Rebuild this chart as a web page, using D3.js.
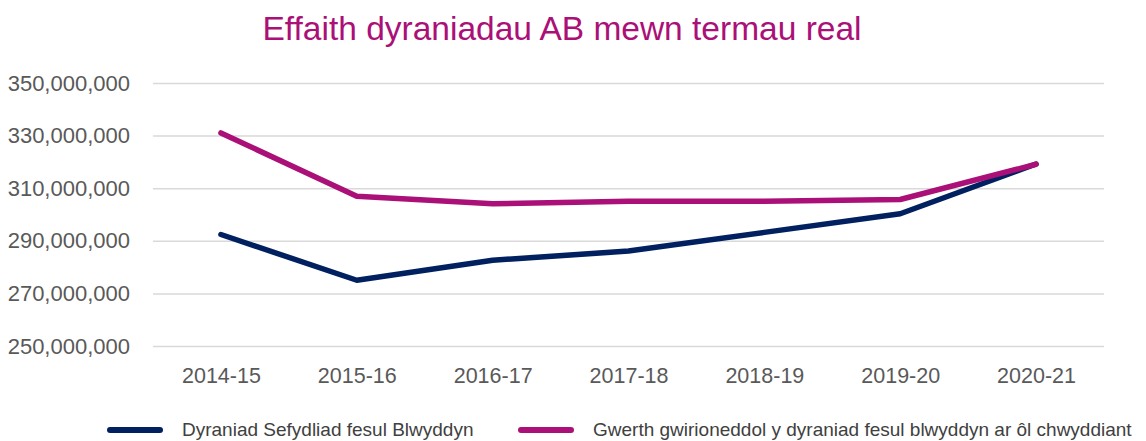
<!DOCTYPE html>
<html>
<head>
<meta charset="utf-8">
<script src="https://cdn.jsdelivr.net/npm/d3@7"></script>
<style>
  body { margin: 0; background: #fff; }
  svg { display: block; font-family: "Liberation Sans", Arial, sans-serif; }
</style>
</head>
<body>
<svg width="1146" height="441"></svg>
<script>
var years = ["2014-15", "2015-16", "2016-17", "2017-18", "2018-19", "2019-20", "2020-21"];
var allocation = [292400000, 275000000, 282600000, 286100000, 293200000, 300300000, 319200000];
var realValue = [331000000, 306900000, 304100000, 305000000, 305000000, 305700000, 319100000];
var yTicks = [250000000, 270000000, 290000000, 310000000, 330000000, 350000000];
var seriesNames = ["Dyraniad Sefydliad fesul Blwyddyn", "Gwerth gwirioneddol y dyraniad fesul blwyddyn ar ôl chwyddiant"];

function main() {
  var svg = d3.select("svg"),
      margin = {top: 83, left: 153, right: 42, bottom: 95},
      width = 1146 - margin.left - margin.right,
      height = 441 - margin.top - margin.bottom,
      g = svg.append("g").attr("transform", "translate(" + margin.left + "," + margin.top + ")");

  var navy = "#002060", magenta = "#AA1077";

  var x = d3.scalePoint().domain(years).range([0, width]).padding(0.5);
  var y = d3.scaleLinear().domain([250000000, 350000000]).range([height, 0]);

  // title
  svg.append("text")
    .attr("x", 562)
    .attr("y", 40)
    .attr("text-anchor", "middle")
    .attr("fill", magenta)
    .attr("font-size", "33.5px")
    .text("Effaith dyraniadau AB mewn termau real");

  // gridlines + y labels
  var yAxis = g.append("g")
    .call(d3.axisLeft(y).tickValues(yTicks).tickSize(-width).tickPadding(23).tickFormat(d3.format(",")));
  yAxis.select(".domain").remove();
  yAxis.selectAll(".tick line").attr("stroke", "#d9d9d9").attr("stroke-width", 1.5);
  yAxis.selectAll(".tick text")
    .attr("fill", "#595959")
    .attr("font-size", "22px")
    .attr("font-family", "Liberation Sans, Arial, sans-serif");

  // x labels
  var xAxis = g.append("g")
    .attr("transform", "translate(0," + height + ")")
    .call(d3.axisBottom(x).tickSize(0).tickPadding(22));
  xAxis.select(".domain").remove();
  xAxis.selectAll(".tick text")
    .attr("fill", "#595959")
    .attr("font-size", "21.5px")
    .attr("font-family", "Liberation Sans, Arial, sans-serif");

  var line = d3.line()
    .x(function(d, i) { return x(years[i]); })
    .y(function(d) { return y(d); });

  g.append("path")
    .datum(allocation)
    .attr("fill", "none")
    .attr("stroke", navy)
    .attr("stroke-width", 5.5)
    .attr("stroke-linecap", "round")
    .attr("stroke-linejoin", "round")
    .attr("d", line);

  g.append("path")
    .datum(realValue)
    .attr("fill", "none")
    .attr("stroke", magenta)
    .attr("stroke-width", 5.5)
    .attr("stroke-linecap", "round")
    .attr("stroke-linejoin", "round")
    .attr("d", line);

  // legend
  var legendX = [110, 521];
  var colors = [navy, magenta];
  var legend = svg.append("g")
    .selectAll("g")
    .data(seriesNames)
    .enter().append("g")
      .attr("transform", function(d, i) { return "translate(" + legendX[i] + ",430)"; });

  legend.append("line")
    .attr("x1", 0).attr("x2", 50)
    .attr("stroke", function(d, i) { return colors[i]; })
    .attr("stroke-width", 6)
    .attr("stroke-linecap", "round");

  legend.append("text")
    .attr("x", 72)
    .attr("dy", "0.3em")
    .attr("fill", "#404040")
    .attr("font-size", "19px")
    .text(function(d) { return d; });
}
main();
</script>
</body>
</html>
